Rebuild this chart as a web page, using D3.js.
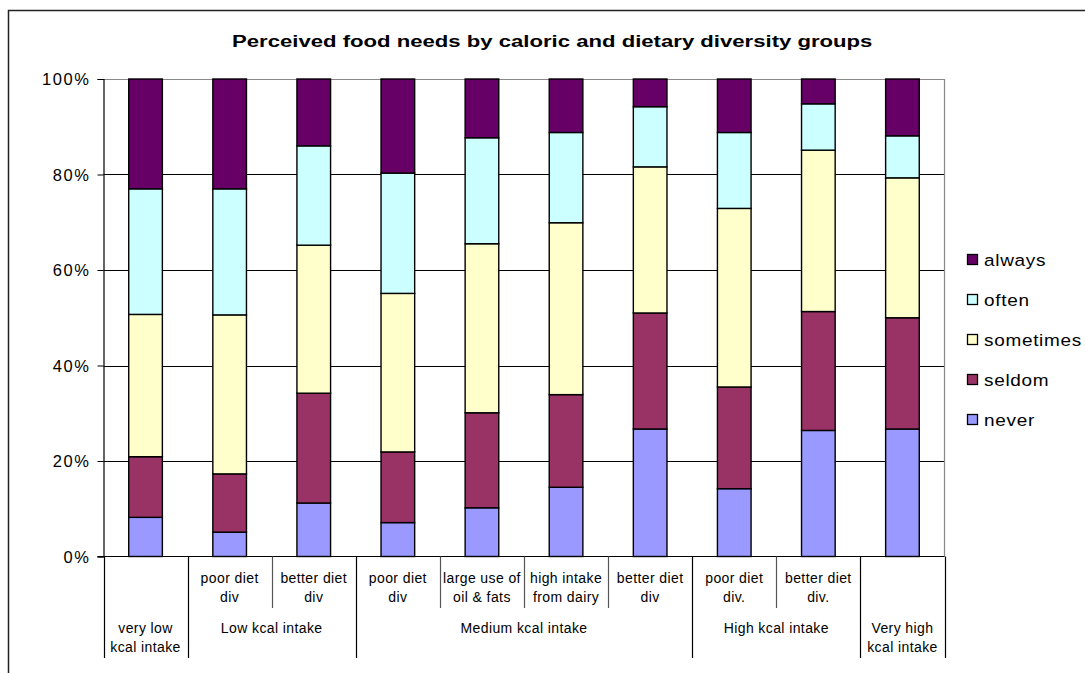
<!DOCTYPE html>
<html>
<head>
<meta charset="utf-8">
<script src="https://cdn.jsdelivr.net/npm/d3@7"></script>
<style>
  html, body { margin: 0; padding: 0; background: #fff; }
  svg { display: block; font-family: "Liberation Sans", Arial, sans-serif; }
</style>
</head>
<body>
<svg id="chart" width="1085" height="673"></svg>
<script>
// Response categories, bottom of the stack first
const seriesNames = ["never", "seldom", "sometimes", "often", "always"];
const seriesColors = ["#9999FF", "#993366", "#FFFFCC", "#CCFFFF", "#660066"];

// Share of respondents (%) per group, one array per response
const never     = [8.2, 5.1, 11.2, 7.1, 10.2, 14.5, 26.7, 14.2, 26.4, 26.7];
const seldom    = [12.7, 12.2, 23.0, 14.8, 19.9, 19.4, 24.3, 21.3, 24.9, 23.3];
const sometimes = [29.8, 33.3, 31.0, 33.2, 35.4, 36.0, 30.6, 37.4, 33.8, 29.3];
const often     = [26.3, 26.4, 20.8, 25.2, 22.2, 18.9, 12.6, 15.9, 9.7, 8.8];
const always    = [23.0, 23.0, 14.0, 19.7, 12.3, 11.2, 5.8, 11.2, 5.2, 11.9];

// Inner category labels (dietary diversity), two lines each; empty where none
const subLabels = [
  [],
  ["poor diet", "div"],
  ["better diet", "div"],
  ["poor diet", "div"],
  ["large use of", "oil & fats"],
  ["high intake", "from dairy"],
  ["better diet", "div"],
  ["poor diet", "div."],
  ["better diet", "div."],
  []
];

// Outer category labels (caloric intake) and how many bars each spans
const groupLabels = [
  ["very low", "kcal intake"],
  ["Low kcal intake"],
  ["Medium kcal intake"],
  ["High kcal intake"],
  ["Very high", "kcal intake"]
];
const groupSizes = [1, 2, 4, 2, 1];

const yTicks = [0, 0.2, 0.4, 0.6, 0.8, 1.0];
const title = "Perceived food needs by caloric and dietary diversity groups";

const svg = d3.select("#chart");

// Stretch a text element horizontally so it spans `width` pixels from anchor x
function fitWidth(sel, x0, width) {
  const w = sel.node().getComputedTextLength();
  const k = width / w;
  sel.attr("x", 0).attr("transform", `translate(${x0},0) scale(${k},1)`);
  return k;
}

// Outer chart frame
svg.append("rect")
  .attr("x", 8.5).attr("y", 10.5)
  .attr("width", 1200).attr("height", 800)
  .attr("fill", "none").attr("stroke", "#222").attr("stroke-width", 1.5);

const plot = { left: 103.5, right: 944.5, top: 79, bottom: 556.5 };

const idx = d3.range(never.length);
const rows = idx.map(i => ({
  never: never[i], seldom: seldom[i], sometimes: sometimes[i],
  often: often[i], always: always[i]
}));

const stack = d3.stack().keys(seriesNames).offset(d3.stackOffsetExpand);
const layers = stack(rows);

const x = d3.scaleBand()
  .domain(idx)
  .range([plot.left, plot.right])
  .paddingInner(0.6)
  .paddingOuter(0.3);

const y = d3.scaleLinear().domain([0, 1]).range([plot.bottom, plot.top]);

const color = d3.scaleOrdinal().domain(seriesNames).range(seriesColors);

// Horizontal gridlines
svg.append("g")
  .selectAll("line")
  .data(yTicks.filter(t => t > 0 && t < 1))
  .join("line")
  .attr("x1", plot.left).attr("x2", plot.right)
  .attr("y1", d => Math.round(y(d)) + 0.5).attr("y2", d => Math.round(y(d)) + 0.5)
  .attr("stroke", "#000").attr("stroke-width", 1);

// Plot area frame (top and right in grey)
svg.append("path")
  .attr("d", `M${plot.left},${plot.top + 0.5}H${plot.right}V${plot.bottom}`)
  .attr("fill", "none").attr("stroke", "#888").attr("stroke-width", 1.2);

// Stacked bars
svg.append("g")
  .selectAll("g")
  .data(layers)
  .join("g")
  .attr("fill", d => color(d.key))
  .selectAll("rect")
  .data(d => d)
  .join("rect")
  .attr("x", (d, i) => x(i))
  .attr("width", x.bandwidth())
  .attr("y", d => y(d[1]))
  .attr("height", d => y(d[0]) - y(d[1]))
  .attr("stroke", "#000")
  .attr("stroke-width", 1.4);

// Value axis
const yAxis = d3.axisLeft(y)
  .tickValues(yTicks)
  .tickFormat(d3.format(".0%"))
  .tickSize(6)
  .tickPadding(7);

const gy = svg.append("g")
  .attr("transform", `translate(${plot.left},0)`)
  .call(yAxis);
gy.select(".domain").attr("stroke", "#000").attr("stroke-width", 1.2);
gy.selectAll(".tick line").attr("stroke", "#000");
gy.selectAll(".tick text")
  .attr("font-size", 16.5)
  .attr("letter-spacing", "1.6px")
  .attr("fill", "#000")
  .attr("dy", "0.34em");

// Category baseline
svg.append("line")
  .attr("x1", plot.left - 6).attr("x2", plot.right)
  .attr("y1", plot.bottom).attr("y2", plot.bottom)
  .attr("stroke", "#000").attr("stroke-width", 1.2);

// Category axis: separators and two-level labels
const step = x.step();
const edge = i => plot.left + i * step;   // left edge of slot i
const groupStarts = groupSizes.map((s, i) => d3.sum(groupSizes.slice(0, i)));
const groupEdges = new Set(groupStarts.concat([idx.length]));
const innerBottom = 608;
const outerBottom = 658;

const catAxis = svg.append("g");
catAxis.selectAll("line")
  .data(d3.range(idx.length + 1))
  .join("line")
  .attr("x1", i => Math.round(edge(i)) + 0.5)
  .attr("x2", i => Math.round(edge(i)) + 0.5)
  .attr("y1", plot.bottom)
  .attr("y2", i => groupEdges.has(i) ? outerBottom : innerBottom)
  .attr("stroke", i => groupEdges.has(i) ? "#000" : "#555")
  .attr("stroke-width", 1.2);

const labelFont = 14;
catAxis.selectAll("text.sub")
  .data(idx)
  .join("text")
  .attr("class", "sub")
  .attr("text-anchor", "middle")
  .attr("font-size", labelFont)
  .attr("letter-spacing", "0.4px")
  .attr("fill", "#000")
  .each(function (i) {
    const t = d3.select(this);
    subLabels[i].forEach((line, k) => {
      t.append("tspan")
        .attr("x", edge(i) + step / 2)
        .attr("y", 583 + k * 19)
        .text(line);
    });
  });

catAxis.selectAll("text.group")
  .data(groupLabels.map((l, g) => ({ lines: l, start: groupStarts[g], size: groupSizes[g] })))
  .join("text")
  .attr("class", "group")
  .attr("text-anchor", "middle")
  .attr("font-size", labelFont)
  .attr("letter-spacing", "0.4px")
  .attr("fill", "#000")
  .each(function (d) {
    const t = d3.select(this);
    const cx = edge(d.start) + d.size * step / 2;
    d.lines.forEach((line, k) => {
      t.append("tspan")
        .attr("x", cx)
        .attr("y", 633 + k * 19)
        .text(line);
    });
  });

// Title, widened to the chart's title span
const titleText = svg.append("text")
  .attr("y", 47)
  .attr("font-size", 17)
  .attr("font-weight", "bold")
  .attr("fill", "#000")
  .text(title);
fitWidth(titleText, 232, 641);

// Legend, top entry is the top of the stack
const legendOrder = seriesNames.slice().reverse();
const legend = svg.append("g")
  .selectAll("g")
  .data(legendOrder)
  .join("g")
  .attr("transform", (d, i) => `translate(967,${260 + i * 40})`);
legend.append("rect")
  .attr("x", 0.5).attr("y", -5.5)
  .attr("width", 10).attr("height", 10)
  .attr("fill", d => color(d))
  .attr("stroke", "#000").attr("stroke-width", 1.3);
const legendText = legend.append("text")
  .attr("y", 0)
  .attr("dy", "0.36em")
  .attr("font-size", 16.5)
  .attr("letter-spacing", "0.6px")
  .attr("fill", "#000")
  .text(d => d);
// Common horizontal stretch so the longest entry spans 98px
const longest = legendText.filter(d => d === "sometimes");
const kLegend = 98 / longest.node().getComputedTextLength();
legendText.attr("transform", `translate(17,0) scale(${kLegend},1)`);
</script>
</body>
</html>
